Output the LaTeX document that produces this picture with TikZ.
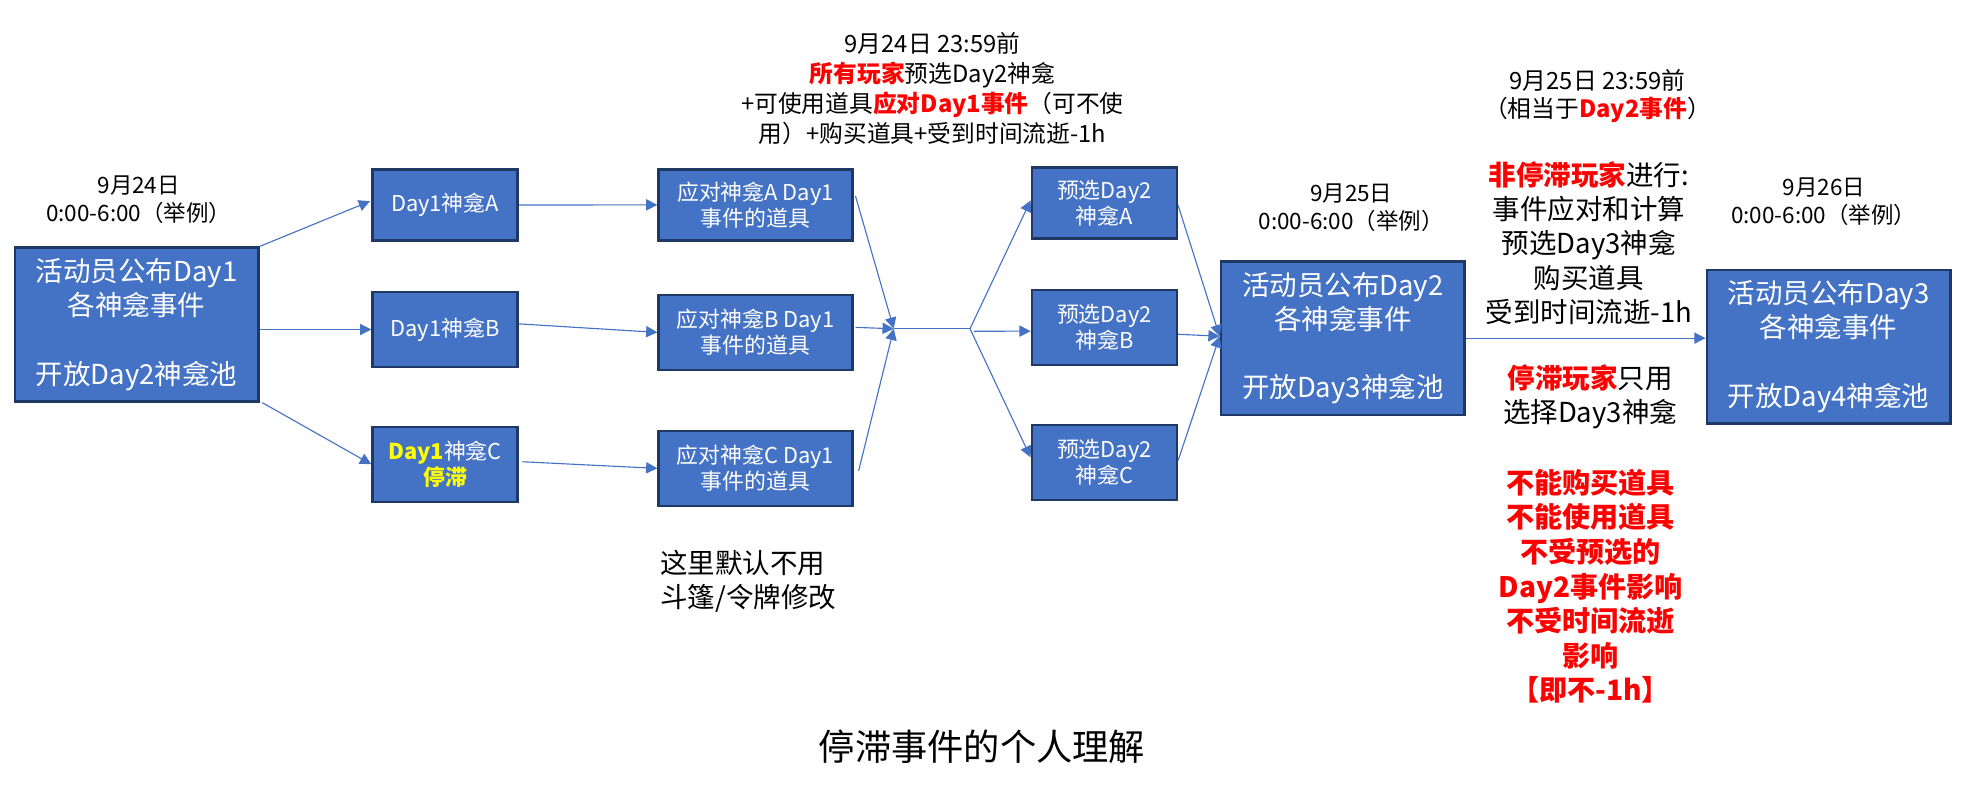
\documentclass[tikz,border=0pt]{standalone}
\usepackage{fontspec}
\setmainfont{Noto Sans CJK SC}
\usetikzlibrary{arrows.meta,calc}
\definecolor{boxfill}{HTML}{4472C4}
\definecolor{boxline}{HTML}{1F3864}
\definecolor{connc}{HTML}{4472C4}
\definecolor{hired}{HTML}{FF0000}
\definecolor{hiyel}{HTML}{FFFF00}
\begin{document}
\begin{tikzpicture}[x=1pt,y=-1pt,
  bigbox/.style={draw=boxline, line width=2pt, fill=boxfill, text=white,
    minimum width=195pt, minimum height=123pt, inner sep=0pt, align=center,
    font=\fontsize{22}{27.3}\selectfont},
  smallbox/.style={draw=boxline, line width=2pt, fill=boxfill, text=white,
    minimum width=116pt, minimum height=60pt, inner sep=0pt, align=center,
    font=\fontsize{17.5}{21}\selectfont},
  midbox/.style={smallbox, minimum width=155pt},
  datelbl/.style={align=center, inner sep=0pt, font=\fontsize{18}{22.7}\selectfont},
  toplbl/.style={align=center, inner sep=0pt, font=\fontsize{19}{24}\selectfont},
  bodytxt/.style={align=center, inner sep=0pt, font=\fontsize{22}{27.5}\selectfont},
  redtxt/.style={align=center, inner sep=0pt, text=hired, font=\fontsize{22.5}{27.7}\selectfont\bfseries},
  conn/.style={draw=connc, line width=0.9pt, -{Triangle[length=9pt,width=9pt]}},
  plainconn/.style={draw=connc, line width=0.9pt}
]
\useasboundingbox (0,0) rectangle (1569.6,629.6);

% boxes
\node[bigbox] (L1) at (109.3,259.6) {活动员公布Day1\\各神龛事件\\[27.3pt]开放Day2神龛池};
\node[smallbox, minimum height=57pt] (D1A) at (356,164) {Day1神龛A};
\node[smallbox] (D1B) at (356,263.6) {Day1神龛B};
\node[smallbox] (D1C) at (356,371.4) {\textcolor{hiyel}{\bfseries Day1}神龛C\\\textcolor{hiyel}{\bfseries 停滞}};

\node[midbox, minimum height=57pt] (RA) at (604.4,163.9) {应对神龛A Day1\\事件的道具};
\node[midbox] (RB) at (604.4,265.9) {应对神龛B Day1\\事件的道具};
\node[midbox] (RC) at (604.4,374.7) {应对神龛C Day1\\事件的道具};

\node[smallbox, minimum height=57pt] (PA) at (883.5,162.3) {预选Day2\\神龛A};
\node[smallbox] (PB) at (883.5,261.9) {预选Day2\\神龛B};
\node[smallbox] (PC) at (883.5,369.9) {预选Day2\\神龛C};

\node[bigbox] (D2) at (1074.2,270.5) {活动员公布Day2\\各神龛事件\\[27.3pt]开放Day3神龛池};
\node[bigbox] (D3) at (1462.9,277.3) {活动员公布Day3\\各神龛事件\\[27.3pt]开放Day4神龛池};

% labels
\node[datelbl] (t1) at (111,160) {9月24日\\0:00-6:00（举例）};
\node[datelbl] (t2) at (1081,166) {9月25日\\0:00-6:00（举例）};
\node[datelbl] (t3) at (1459,161.3) {9月26日\\0:00-6:00（举例）};

\node[toplbl] (top1) at (746,71) {9月24日 23:59前\\
  \textcolor{hired}{\bfseries 所有玩家}预选Day2神龛\\
  +可使用道具\textcolor{hired}{\bfseries 应对Day1事件}（可不使\\
  用）+购买道具+受到时间流逝-1h};
\node[datelbl, font=\fontsize{19}{22.7}\selectfont] (top2) at (1278,76.7) {9月25日 23:59前\\（相当于\textcolor{hired}{\bfseries Day2事件}）};

\node[bodytxt] (mid1) at (1271,194.5) {\textcolor{hired}{\bfseries 非停滞玩家}进行:\\事件应对和计算\\预选Day3神龛\\购买道具\\受到时间流逝-1h};
\node[bodytxt] (mid2) at (1272,317.5) {\textcolor{hired}{\bfseries 停滞玩家}只用\\选择Day3神龛};
\node[redtxt] (mid3) at (1272.5,469) {不能购买道具\\不能使用道具\\不受预选的\\Day2事件影响\\不受时间流逝\\影响\\【即不-1h】};

\node[bodytxt, align=left, anchor=west] (note) at (528,465) {这里默认不用\\斗篷/令牌修改};
\node[inner sep=0pt, font=\fontsize{29}{34}\selectfont] (title) at (785.5,597) {停滞事件的个人理解};

% junction points
\coordinate (m1) at (715,263);
\coordinate (m2) at (776,263);

% connectors
\draw[conn] (L1.north east) -- ([shift={(-1,-3)}]D1A.west);
\draw[conn] (L1.east |- D1B.west) -- (D1B.west);
\draw[conn] ([shift={(2,0)}]L1.south east) -- (D1C.west);

\draw[conn] (D1A.east) -- (RA.west);
\draw[conn] ([shift={(0,-4.5)}]D1B.east) -- (RB.west);
\draw[conn] ([shift={(3,-2)}]D1C.east) -- (RC.west);

\draw[conn] ([shift={(1.5,-7)}]RA.east) -- (m1);
\draw[conn] ([shift={(1.5,-4)}]RB.east) -- (m1);
\draw[conn] ([shift={(4,2)}]RC.east) -- (m1);
\draw[plainconn] (m1) -- (m2);

\draw[conn] (m2) -- ([shift={(0,-2)}]PA.west);
\draw[conn] ([shift={(3,2)}]m2) -- ([shift={(0,3)}]PB.west);
\draw[conn] (m2) -- ([shift={(0,-4)}]PC.west);

\draw[conn] ([shift={(0,2)}]PA.east) -- ([shift={(0,-1.5)}]D2.west);
\draw[conn] ([shift={(0,5.5)}]PB.east) -- ([shift={(0,-1.5)}]D2.west);
\draw[conn] ([shift={(0,-1.5)}]PC.east) -- ([shift={(0,-1.5)}]D2.west);

\draw[conn] (D2.east) -- (D3.west |- D2.east);
\end{tikzpicture}
\end{document}
